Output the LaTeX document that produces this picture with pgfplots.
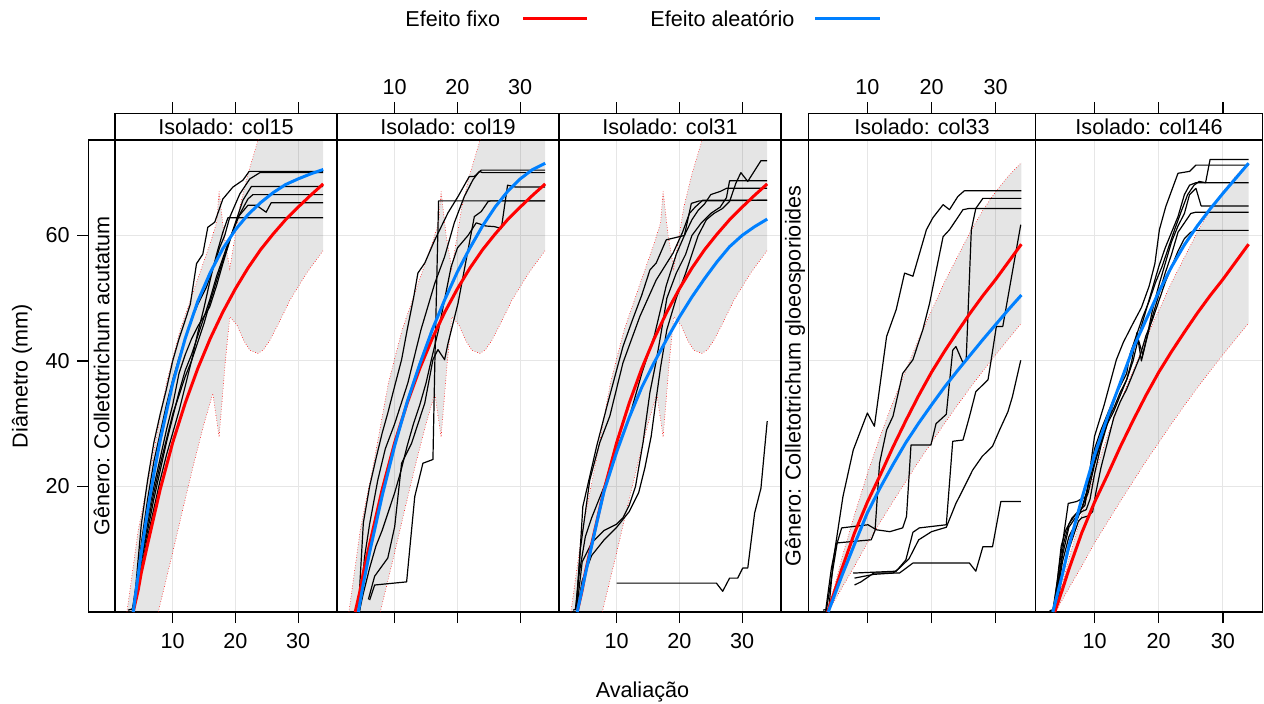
\documentclass[border=0pt]{standalone}
\usepackage{fontspec}
\setmainfont{Liberation Sans}
\usepackage{pgfplots}
\usepackage{pgfplotstable}
\pgfplotsset{compat=1.18}
\usepgfplotslibrary{fillbetween}

\definecolor{fixo}{HTML}{FF0000}
\definecolor{aleat}{HTML}{0080FF}
\definecolor{grade}{HTML}{E6E6E6}

% banda e efeito fixo, C. acutatum
\pgfplotstableread{
x y
2.7 0
4.5 13
6.7 24
9 36.5
11.2 45
13.8 52.5
15.9 58.5
17 62
17.4 67
18.2 60
19.1 54.7
20.7 64.5
22 69.8
23.6 75.1
25 82
30 95
34 105
}\acuUp
\pgfplotstableread{
x y
7.7 0
10 9.5
12 18
13.5 24.2
15 30
16.4 34.8
17.4 27.9
18.4 40
19.1 47
20.2 45.8
21.3 43.3
22.3 41.7
23.6 41.2
24.5 41.8
25.5 43.3
27 46.2
28.7 49.7
31.3 53.9
34 57.6
}\acuLo
\pgfplotstableread{
x y
3.7 0
4.5 3.5
5 6.3
6 10.8
8 19.5
10 27
12 33.3
14 38.8
16 43.6
18 47.8
20 51.5
22 54.8
24 57.7
26 60.2
28 62.5
30 64.5
32 66.4
34 68.2
}\acuFixo

% banda e efeito fixo, C. gloeosporioides
\pgfplotstableread{
x y
3.7 0
5 4.5
6 8.5
8 15.5
10 22
12 28
14 33.5
16 38.5
18 43.5
20 48
22 52.5
24 56.5
26 60.5
28 64
30 67
32 69.5
34 71.6
}\gloUp
\pgfplotstableread{
x y
3.9 0
5 2
6 3.8
8 7.3
10 11
12 14.3
14 17.6
16 20.8
18 24
20 27
22 30
24 32.9
26 35.7
28 38.4
30 41
32 43.5
34 46
}\gloLo
\pgfplotstableread{
x y
3.8 0
5 3.6
6 6.8
8 12.6
10 17.5
12 21.8
14 26.3
16 30.5
18 34.5
20 38.2
22 41.5
24 44.6
26 47.6
28 50.4
30 53
32 55.8
34 58.6
}\gloFixo

\pgfplotsset{
  painel/.style={
    scale only axis, anchor=south west, height=236pt,
    xmin=0.8, xmax=36.2, ymin=0, ymax=75.2,
    axis line style={line width=0.6pt},
    xtick={10,20,30}, ytick={20,40,60},
    grid=major, major grid style={line width=0.5pt, draw=grade},
    tick align=outside, xtick pos=left, major tick length=5.5pt,
    ytick style={draw=none}, yticklabels={},
    xtick style={line width=0.6pt, black},
    xticklabel style={yshift=-1.5pt},
    xticklabels={}, no markers,
  },
  tira/.style={
    scale only axis, anchor=south west, height=13.25pt,
    xmin=0.8, xmax=36.2, ymin=0, ymax=1,
    axis line style={line width=0.6pt},
    ytick=\empty, xtick={10,20,30}, xtick pos=right,
    tick align=outside, major tick length=5.5pt,
    xtick style={line width=0.6pt, black},
    xticklabels={},
  },
  bandalinha/.style={draw=fixo, densely dotted, line width=0.3pt},
  bandafill/.style={fill=black, fill opacity=0.1, draw=none},
  preta/.style={black, line width=0.6pt, line join=round},
  curvafixo/.style={fixo, line width=1.5pt},
  curvaaleat/.style={aleat, line width=1.5pt},
}

\begin{document}
\fontsize{10.8}{13}\selectfont
\begin{tikzpicture}

% legenda
\node[anchor=base west, inner sep=0] at (202.5pt,338pt) {Efeito fixo};
\draw[fixo, line width=1.5pt] (261.5pt,342pt) -- (293.5pt,342pt);
\node[anchor=base west, inner sep=0] at (325pt,338pt) {Efeito aleatório};
\draw[aleat, line width=1.5pt] (407.5pt,342pt) -- (440pt,342pt);

% rótulos dos eixos
\node[anchor=base] at (321.25pt,3pt) {Avaliação};
\node[rotate=90] at (11pt,163.5pt) {Diâmetro (mm)};

% tira vertical, C. acutatum
\begin{axis}[scale only axis, anchor=south west, at={(44.15pt,45.5pt)},
  width=13.35pt, height=236pt, xmin=0, xmax=1, ymin=0, ymax=75.2,
  xtick=\empty, ytick={20,40,60}, yticklabels={20,40,60}, ytick pos=left,
  tick align=outside, major tick length=5.5pt,
  axis line style={line width=0.6pt}, ytick style={line width=0.6pt, black}]
\node[rotate=90] at (axis description cs:0.5,0.5) {Gênero: Colletotrichum acutatum};
\end{axis}

% tira vertical, C. gloeosporioides
\begin{axis}[scale only axis, anchor=south west, at={(390.75pt,45.5pt)},
  width=13.4pt, height=236pt, xmin=0, xmax=1, ymin=0, ymax=75.2,
  xtick=\empty, ytick=\empty, axis line style={line width=0.6pt}]
\node[rotate=90] at (axis description cs:0.5,0.5) {Gênero: Colletotrichum gloeosporioides};
\end{axis}

% ---------- col15 ----------
\begin{axis}[tira, at={(57.5pt,281.5pt)}, width=111pt]
\node at (axis description cs:0.5,0.5) {Isolado: col15};
\end{axis}
\begin{axis}[painel, at={(57.5pt,45.5pt)}, width=111pt, xticklabels={10,20,30}]
\addplot[bandalinha, name path=up] table {\acuUp};
\addplot[bandalinha, name path=lo] table {\acuLo};
\addplot[bandafill] fill between[of=up and lo];
\addplot[preta] coordinates {(2.9,0.3)(3.6,0.5)(4.1,4)(5,14)(6,21)(7,27)(8,31.5)(9,35.5)(10,40)(11,43.5)(12,46.5)(12.8,49)(13.8,55.5)(14.8,57)(15.6,61.3)(16.7,62.1)(18,65.8)(19.6,67.7)(21.2,68.8)(22.2,70.2)(34,70.2)};
\addplot[preta] coordinates {(3.5,0.3)(4.1,2.5)(5,11)(6,18)(7,24)(8,28.5)(9,33)(10,37)(11,40.5)(12,43.5)(13,46.5)(14,49)(15.4,51.8)(16.5,55)(17.5,58.1)(18.3,60)(19.1,62.9)(20.7,66.6)(22.3,69)(23.9,70)(34,70)};
\addplot[preta] coordinates {(3.6,0.2)(4.2,3)(5,9)(6,15)(7,20)(8,24.5)(9,29)(10,33)(11,38)(12,41)(13,43.5)(14,45.5)(15.9,48.6)(17,52)(18,55.5)(19.6,60.8)(21.2,65.6)(22.55,67.8)(34,67.8)};
\addplot[preta] coordinates {(3.7,0.2)(4.3,3.5)(5,8)(6,13)(7,18)(8,22.5)(9,27)(10,31)(11,35)(12,38.5)(13,41)(14,44)(15,47)(15.9,49.7)(17,53.5)(18.6,58.1)(19.5,60.5)(20.7,63.4)(22,65.8)(22.8,66.5)(34,66.5)};
\addplot[preta] coordinates {(3.7,0.2)(4.4,3)(5,7)(6,12)(7,16.5)(8,21)(9,25)(10,28.5)(11,32)(12,36)(13,40)(14,43)(15,46)(16,49.5)(17,52.8)(18,56)(19.1,59.2)(20.4,62.9)(22,64.8)(23.35,64.8)(24.9,63.7)(25.7,65.2)(34,65.2)};
\addplot[preta] coordinates {(3.6,0.2)(4.4,4)(5,8.5)(6,14)(7,19)(8,23.5)(9,27.5)(10,31.5)(11,34.5)(12,37.5)(13,40)(14,44.5)(15,48.5)(16,53)(17,57)(18,60.5)(18.8,62.8)(34,62.8)};
\addplot[curvafixo] table {\acuFixo};
\addplot[curvaaleat] coordinates {(3.7,0)(4.5,5.9)(5,9.5)(6,16.1)(7,22)(8,27.3)(10,36.4)(12,43.6)(14,49.5)(16,54.1)(18,57.9)(20,60.9)(22,63.3)(24,65.2)(26,66.8)(28,68.1)(30,69)(32,69.8)(34,70.5)};
\end{axis}

% ---------- col19 ----------
\begin{axis}[tira, at={(168.5pt,281.5pt)}, width=111pt, xticklabels={10,20,30}]
\node at (axis description cs:0.5,0.5) {Isolado: col19};
\end{axis}
\begin{axis}[painel, at={(168.5pt,45.5pt)}, width=111pt]
\addplot[bandalinha, name path=up] table {\acuUp};
\addplot[bandalinha, name path=lo] table {\acuLo};
\addplot[bandafill] fill between[of=up and lo];
\addplot[preta] coordinates {(4.2,0.2)(5,14.2)(6,20)(7.1,24.8)(8,28.5)(8.9,31.7)(10,36)(11.1,40.2)(12,45)(13,50)(13.7,54)(14.8,55.6)(16.4,59.3)(18.5,63.6)(20.1,66.2)(21.9,69.4)(22.7,69.4)(23.8,70.4)(34,70.4)};
\addplot[preta] coordinates {(4.4,0.2)(5.2,8.8)(6,14)(7.3,21)(8.5,26)(10,30)(12.1,36.5)(14.2,45)(16.4,52.4)(17.96,56.6)(19.5,62)(21.1,66.2)(22.5,68.9)(23.5,70.2)(24,70)(34,70)};
\addplot[preta] coordinates {(6,1.9)(6.8,4.3)(11.9,4.8)(13.2,18.4)(14.5,23.7)(16.1,24.3)(16.4,39.7)(17,65.5)(34,65.5)};
\addplot[preta] coordinates {(5.8,2)(6.8,5.7)(8.9,8.6)(10,13.6)(11.1,23.7)(12.7,26.9)(14.8,33.3)(16.1,40.2)(16.9,41.8)(17.96,40.2)(18.5,42.8)(20.1,49.2)(21.7,57.7)(22.7,63)(23.8,63.8)(24.9,65.4)(25.3,65.5)(34,65.5)};
\addplot[preta] coordinates {(4.4,0.2)(5,3)(6,7)(7,10.5)(8,13)(9,16)(10,19)(11,22.5)(12,26.5)(13,30)(14,33)(15,36.5)(15.8,40)(17,45)(18,50)(19,55)(20,58)(21.7,60)(23,62)(24.5,61.5)(25.9,61.4)(27,61.1)(28,68)(29.3,67.7)(34,67.7)};
\addplot[curvafixo] table {\acuFixo};
\addplot[curvaaleat] coordinates {(4.2,0)(5,4.5)(6,9.5)(8,18.5)(10,26.5)(12,33.5)(14,39.5)(16,45)(18,49.8)(20,54.2)(22,58)(24,61.5)(26,64.5)(28,67)(30,69)(32,70.5)(34,71.5)};
\end{axis}

% ---------- col31 ----------
\begin{axis}[tira, at={(279.5pt,281.5pt)}, width=111pt]
\node at (axis description cs:0.5,0.5) {Isolado: col31};
\end{axis}
\begin{axis}[painel, at={(279.5pt,45.5pt)}, width=111pt, xticklabels={10,20,30}]
\addplot[bandalinha, name path=up] table {\acuUp};
\addplot[bandalinha, name path=lo] table {\acuLo};
\addplot[bandafill] fill between[of=up and lo];
\addplot[preta] coordinates {(3.05,0.3)(3.6,0.5)(4.6,16.8)(6.8,26.4)(8.5,33)(10,38.6)(11,42.3)(12.5,46.5)(14,50.5)(15.3,54.5)(16.3,55.6)(17.9,59.3)(20,59.8)(20.8,60)(21.9,65.1)(23.2,65.5)(34,65.6)};
\addplot[preta] coordinates {(3.5,0.3)(4.2,10)(5.7,21)(7.3,27)(8.9,31.2)(11,39.7)(13.7,47.1)(16.3,52.9)(19,57.2)(20.5,60.5)(21.6,63.5)(22.5,64.5)(23.7,65.6)(34,65.6)};
\addplot[preta] coordinates {(3.4,0.3)(4,6)(5,12)(6,15)(8,20)(10,26)(12,31)(14,38)(16,44)(17.9,52)(19.5,57)(20.8,60)(22,62.5)(23,64)(24,65)(25,66.5)(26.5,67)(27.5,67.5)(34,67.5)};
\addplot[preta] coordinates {(3.6,0.3)(4.5,8)(6,11)(8,13)(10,14)(11,15)(12,17)(13,20)(14.2,27)(15.3,35)(16.3,40)(17,44)(18,50)(19.5,54)(21,57)(22,60)(23.5,62)(25,63.5)(26.5,64.5)(27.5,66)(28,68.7)(34,68.7)};
\addplot[preta] coordinates {(3.7,0.3)(4.5,5)(6,9)(8,11.5)(10,13.5)(12,16)(13.5,19)(14.5,23)(15.5,28)(16.3,34)(17,39)(18,45)(19.5,50)(21,54)(22,57)(23,60)(24.3,62.5)(25.5,63.5)(26.9,64.3)(28,65.4)(29,68.3)(29.8,70)(30.9,68.6)(33,71.9)(34,71.9)};
\addplot[preta] coordinates {(10,4.6)(25.9,4.6)(26.9,3.3)(28,5.4)(29.3,5.4)(30.1,7)(30.9,7)(32,15.8)(33,19.7)(34,30.4)};
\addplot[curvafixo] table {\acuFixo};
\addplot[curvaaleat] coordinates {(3.7,0)(5,6)(6,10.5)(7,15)(8,19.3)(10,25.5)(12,31)(14,35.8)(16,39.8)(18,43.5)(20,47)(22,50.2)(24,53.1)(26,55.8)(28,58.2)(30,60)(32,61.4)(34,62.6)};
\end{axis}

% ---------- col33 ----------
\begin{axis}[tira, at={(404.15pt,281.5pt)}, width=113.6pt, xticklabels={10,20,30}]
\node at (axis description cs:0.5,0.5) {Isolado: col33};
\end{axis}
\begin{axis}[painel, at={(404.15pt,45.5pt)}, width=113.6pt]
\addplot[bandalinha, name path=up] table {\gloUp};
\addplot[bandalinha, name path=lo] table {\gloLo};
\addplot[bandafill] fill between[of=up and lo];
\addplot[preta] coordinates {(3.1,0.3)(4,0.5)(4.7,8.3)(6.2,18.4)(7.8,25.8)(10,31.7)(11.1,29.6)(13,43.9)(14.5,48.2)(15.8,54)(17.1,53.5)(19.2,60.9)(20.2,62.8)(21.8,64.9)(22.8,64.1)(24.1,66.2)(25.1,67.1)(34,67.1)};
\addplot[preta] coordinates {(3.5,0.2)(4.4,7)(5.2,11)(10.6,11.5)(11.2,13)(11.9,23.7)(13,29)(14,31.2)(15.5,38)(17.1,40.2)(18.65,45)(19.7,49.2)(21.8,59.8)(22.8,60.9)(24.9,64.1)(25.9,64.3)(34,64.3)};
\addplot[preta] coordinates {(3.6,0.2)(4.5,6)(5.3,11)(6,13.4)(10.1,13.9)(11.4,13.1)(13.5,12.8)(15.5,13.4)(16.1,15.2)(16.8,26.6)(19.9,26.6)(20.7,30)(22.3,31.5)(23.3,41.7)(23.8,42.3)(24.9,39.7)(25.4,40.2)(26.2,60.9)(26.9,64.3)(28,65.9)(34,65.9)};
\addplot[preta] coordinates {(7.8,6.2)(14.5,6.5)(16,8.3)(17.1,12.7)(18.1,13.4)(22.3,13.9)(23.3,27.2)(24.9,27.4)(25.9,31.1)(26.9,35.1)(28.8,37)(29.3,40.2)(30.1,45.5)(31.1,45.5)(33.9,61.7)};
\addplot[preta] coordinates {(8,5.4)(11,6)(14,6.2)(15,7)(16.5,8.5)(18,11.5)(20,12.8)(22.3,13.5)(23.8,17.3)(24.9,19.5)(26.4,22.6)(27.9,24.8)(29.5,26.4)(30.6,29)(31.9,31.9)(32.6,34.3)(33.9,40.1)};
\addplot[preta] coordinates {(8,4.3)(9,4.8)(11,6.2)(15,6.2)(17.1,7.8)(25.9,7.8)(26.9,6.5)(28,10.4)(29.5,10.4)(30.8,17.6)(33.9,17.6)};
\addplot[curvafixo] table {\gloFixo};
\addplot[curvaaleat] coordinates {(3.9,0)(5,3)(6,5.7)(8,10.8)(10,15.8)(12,19.8)(14,23.5)(16,27)(18,30.1)(20,33)(22,35.8)(24,38.4)(26,40.9)(28,43.4)(30,45.8)(32,48.2)(34,50.5)};
\end{axis}

% ---------- col146 ----------
\begin{axis}[tira, at={(517.75pt,281.5pt)}, width=113.6pt]
\node at (axis description cs:0.5,0.5) {Isolado: col146};
\end{axis}
\begin{axis}[painel, at={(517.75pt,45.5pt)}, width=113.6pt, xticklabels={10,20,30}]
\addplot[bandalinha, name path=up] table {\gloUp};
\addplot[bandalinha, name path=lo] table {\gloLo};
\addplot[bandafill] fill between[of=up and lo];
\addplot[preta] coordinates {(3,0.2)(3.6,0.4)(4.6,8)(5.9,17.3)(7.2,17.6)(8.7,18.4)(10,28)(11.5,33)(13.4,40.2)(14.5,43)(16,46)(17.3,48.5)(18.5,51.9)(19.4,55.5)(20.1,60.9)(21.1,64.6)(23,69.9)(24.8,70.2)(25.8,71.2)(34,71.2)};
\addplot[preta] coordinates {(3.5,0.2)(4.2,5)(4.8,10.5)(5.5,13)(6.5,15)(7.5,16)(8.5,17)(9.3,22)(10,26)(11,29)(12,31.5)(13,34)(14,36)(15,38)(15.5,41)(16.5,44)(17.5,47)(18.5,49.5)(19.5,52.5)(20.5,55)(21.5,58)(22.5,61)(23.5,63.8)(24.5,66.5)(25.5,68)(26.3,68.6)(27.3,68.4)(28,72.1)(34,72.1)};
\addplot[preta] coordinates {(3.5,0.2)(4.3,4)(5,9)(6,13.5)(7,15)(8,16)(8.7,16.3)(9.3,18)(10,22)(11,26.5)(12,30)(13,33.5)(14,36.5)(15,39)(16,42)(17,44.5)(18,48)(19,51.5)(20,55)(21,58)(22,60.5)(23,63)(24,66.5)(24.8,68)(25.8,68.4)(34,68.4)};
\addplot[preta] coordinates {(3.6,0.2)(4.5,6)(5.2,11)(6,14)(7,15.5)(8,16.5)(9,19)(10,23.5)(11,27)(12,30.5)(13,32.5)(14,35)(15,37)(16,40)(16.8,43.5)(17.5,41)(18.2,44)(19,48)(20,52)(21,55.5)(22,59)(23,61.5)(24,63.5)(24.8,66.5)(25.8,67.5)(26.6,64.7)(34,64.7)};
\addplot[preta] coordinates {(3.6,0.2)(4.4,4)(5,8)(6,12)(7,14)(8,16.5)(9,20)(10,24)(11,27.5)(12,30)(13,32)(14,34.5)(15,37)(15.8,40)(16.6,44.5)(17.3,40)(18,43)(19,47)(20,50.5)(21,54)(22,57)(23,60.5)(24,62)(25,63.5)(25.8,63.7)(34,63.7)};
\addplot[preta] coordinates {(3.6,0.2)(4.5,3)(5,6)(6,10)(7,13)(7.5,14.5)(8,15)(9,15.3)(9.7,16)(10.2,19)(11,23)(12,27)(13,31)(14,33.5)(15,35.5)(16,38)(17,40.5)(18,44)(19,46.5)(20,49.5)(21,52.5)(22,55)(23,57.5)(24,59.5)(25,60.5)(25.8,60.8)(34,60.8)};
\addplot[curvafixo] table {\gloFixo};
\addplot[curvaaleat] coordinates {(3.5,0)(5,6)(6,10.5)(8,18)(10,25)(12,31)(14,36.5)(16,42)(18,46.5)(20,51)(22,55)(24,58.5)(26,61.5)(28,64.2)(30,66.7)(32,69.1)(34,71.5)};
\end{axis}

\pgfresetboundingbox
\path[use as bounding box] (0,0) rectangle (632pt,351.5pt);
\end{tikzpicture}
\end{document}
